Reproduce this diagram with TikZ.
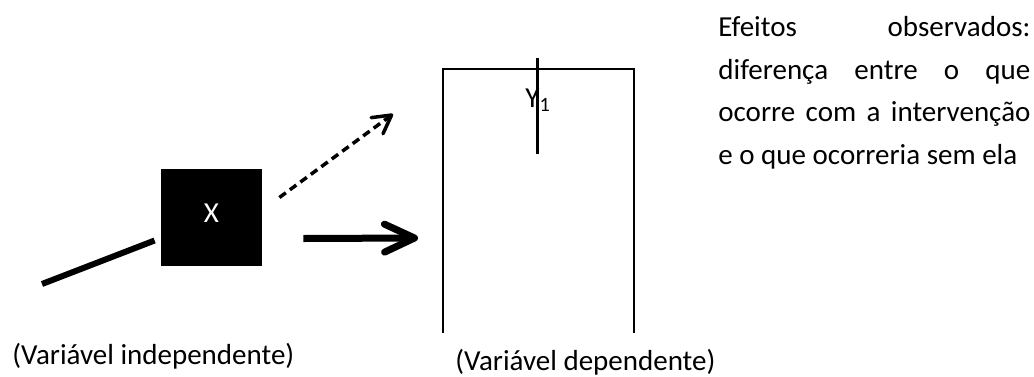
\documentclass[tikz,border=0pt]{standalone}
\usepackage{fontspec}
\setmainfont{Carlito}
\usetikzlibrary{arrows.meta}
\tikzset{
  every node/.style={font=\fontsize{14.5}{21.3}\selectfont,inner sep=0pt},
  varbox/.style={fill=black,minimum width=50.5pt,minimum height=48.5pt,text=white},
  feed/.style={line width=3pt},
  effect/.style={line width=3.5pt,-{Straight Barb[length=15pt,width=14pt,round]}},
  hint/.style={line width=1.75pt,dash pattern=on 4pt off 2.5pt,-{Straight Barb[length=9pt,width=10pt,round]}},
  frame/.style={line width=1pt},
  mark line/.style={line width=1.5pt},
  caption/.style={anchor=base west}
}
\begin{document}
\begin{tikzpicture}[x=0.5pt,y=-0.5pt]
  \useasboundingbox (0,0) rectangle (1034,376);

  % independent variable
  \node[varbox] (x) at (211.5,217.5) {\raisebox{4.5pt}{X}};
  \coordinate (in) at (42,284);
  \draw[feed] (in) -- ([shift={(-6,23)}]x.west);

  % dependent variable, open at the bottom
  \coordinate (ybl) at (443,333);
  \coordinate (ytl) at (443,69);
  \coordinate (ytr) at (634,69);
  \coordinate (ybr) at (634,333);
  \draw[frame] (ybl) -- (ytl) -- (ytr) -- (ybr);
  \coordinate (mtop) at (537,58);
  \coordinate (mbot) at (537,154);
  \draw[mark line] (mtop) -- (mbot);
  \node[caption] (y1) at (525,107) {Y\textsubscript{1}};

  % effects
  \coordinate (hit) at (418,238);
  \coordinate (miss) at (393,114);
  \draw[effect] ([shift={(41,21)}]x.east) -- (hit);
  \draw[hint] ([shift={(17,-20)}]x.east) -- (miss);

  \node[anchor=north west,text width=156pt,align=justify] (note) at (718,16)
    {Efeitos observados:\linebreak diferença entre o que\linebreak ocorre com a intervenção\linebreak e o que ocorreria sem ela};

  \node[caption] (indep) at (12,364) {(Variável independente)};
  \node[caption] (dep) at (455,370) {(Variável dependente)};
\end{tikzpicture}
\end{document}
